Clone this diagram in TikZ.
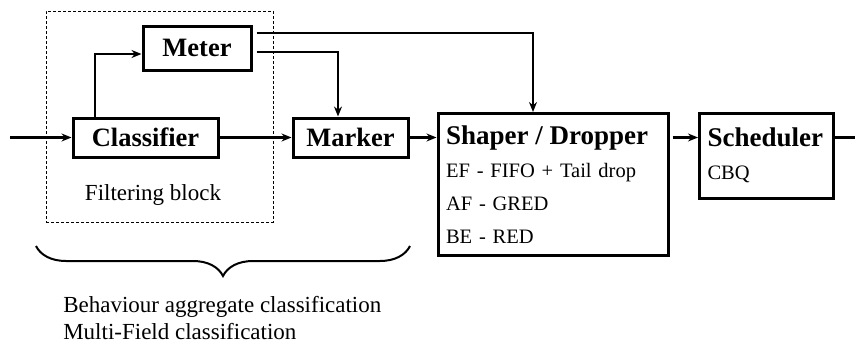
\documentclass[tikz,border=0pt]{standalone}
\usepackage{fontspec}
\setmainfont{Liberation Serif}
\usetikzlibrary{arrows.meta,decorations.pathreplacing}
\newcommand{\blkhead}[1]{{\fontsize{27}{33}\selectfont\bfseries #1}}

\begin{document}
\begin{tikzpicture}[x=1pt, y=-1pt, >={Stealth[length=10pt,width=8pt]}, line width=2.6pt, font=\fontsize{20.5}{33}\selectfont]
\tikzset{
	blk/.style={draw, line width=3pt, inner sep=0pt, minimum height=39pt, font=\fontsize{26.5}{32}\selectfont\bfseries},
	bigblk/.style={draw, line width=3pt, align=left, inner xsep=8pt, inner ysep=0pt},
	filtbox/.style={draw, densely dashed, line width=0.9pt, inner sep=0pt, minimum width=227pt, minimum height=211pt}
}
\useasboundingbox (0,0) rectangle (855,343);

\node[filtbox] (filt) at (159.5,116.5) {};
\node[font=\fontsize{23}{27}\selectfont] (filtlbl) at (153,194.5) {Filtering block};

\node[blk, minimum width=108pt, minimum height=44pt] (mtr) at (197,48) {Meter};
\node[blk, minimum width=145pt] (cls) at (145.5,137.5) {Classifier};
\node[blk, minimum width=115pt] (mrk) at (350.5,137.5) {Marker};

\node[bigblk, text width=214pt, minimum width=230pt, minimum height=142pt] (shaper) at (553,184.5)
{\blkhead{Shaper / Dropper}\\
EF - FIFO + Tail drop\\
AF - GRED\\
BE - RED};

\node[bigblk, text width=118pt, minimum width=134pt, minimum height=85pt] (sched) at (766.5,155.5)
{\blkhead{Scheduler}\\
CBQ};

\coordinate (in) at (10,137.5);
\coordinate (out) at (855,137.5);

\draw[->] (in) -- (cls.west);
\draw[->] (cls.east) -- (mrk.west);
\draw[->] (mrk.east) -- (mrk.east -| shaper.west);
\draw[->, shorten <=3pt] (mrk.east -| shaper.east) -- (mrk.east -| sched.west);
\draw (mrk.east -| sched.east) -- (out);

\draw[->] ([xshift=-50.5pt]cls.north) |- ([yshift=-6pt]mtr.west);
\draw[->] ([xshift=4pt, yshift=-4pt]mtr.east) -| ([xshift=-12.5pt]mrk.north);
\draw[->] ([xshift=4pt, yshift=15pt]mtr.east) -| ([xshift=-20pt]shaper.north);

% brace under the filtering block and marker
\coordinate (bl) at (36,246);
\coordinate (br) at (410,246);
\draw[decorate, decoration={brace, mirror, amplitude=30pt}, line width=2pt] (bl) -- (br);

\node[anchor=north west, align=left, inner sep=0pt, font=\fontsize{23}{27}\selectfont] (bagg) at (62,295)
{Behaviour aggregate classification\\
Multi-Field classification};

\end{tikzpicture}
\end{document}
